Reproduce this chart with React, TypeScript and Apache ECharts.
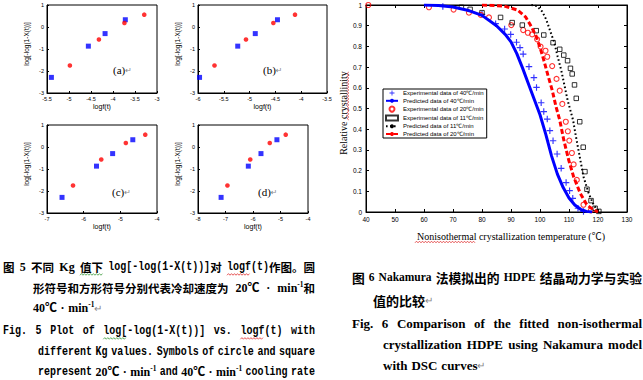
import React, { useEffect, useRef } from 'react';
import * as echarts from 'echarts';

const W = 643;
const H = 380;

// ---------------- Fig. 5 data (four panels) ----------------
const panelTags = ['(a)', '(b)', '(c)', '(d)'];
const panelXName = ['logf(t)', 'logf(t)', 'logf(t)', 'logf(t)'];
const panelXMin = [-5.5, -6, -7, -8];
const panelXMax = [-3, -3.5, -4, -4];
const panelXStep = [0.5, 0.5, 1, 1];
const fig5YName = 'log[-log(1-X(t))]';
const yBlue = [-2.29, -0.87, -0.3, 0.33];
const yRed = [-1.75, -0.57, 0.18, 0.56];
const xBlueA = [-5.4, -4.56, -4.18, -3.72];
const xRedA = [-4.98, -4.32, -3.74, -3.29];
const xBlueB = [-5.97, -5.23, -4.89, -4.46];
const xRedB = [-5.68, -5.07, -4.54, -4.12];
const xBlueC = [-6.59, -5.65, -5.21, -4.66];
const xRedC = [-6.29, -5.52, -4.85, -4.32];
const xBlueD = [-7.16, -6.17, -5.71, -5.13];
const xRedD = [-6.93, -6.1, -5.39, -4.81];
const panelBlueX = [xBlueA, xBlueB, xBlueC, xBlueD];
const panelRedX = [xRedA, xRedB, xRedC, xRedD];

// ---------------- Fig. 6 data ----------------
const fig6Names = [
  'Experimental data of 40\u2103/min',
  'Predicted data of 40\u2103/min',
  'Experimental data of 20\u2103/min',
  'Experimental data of 11\u2103/min',
  'Predicted data of 11\u2103/min',
  'Predicted data of 20\u2103/min',
];
const exp40 = [
  [66.5, 0.993], [80, 0.955], [84.7, 0.91], [87.8, 0.884], [89.9, 0.858], [91.9, 0.82],
  [93.1, 0.794], [94.2, 0.763], [96.2, 0.702], [97.9, 0.649], [98.8, 0.602], [100.4, 0.528],
  [101.3, 0.485], [102.5, 0.449], [103.4, 0.393], [104.5, 0.344], [105.9, 0.28], [107.3, 0.211],
  [109, 0.142], [110.2, 0.103], [111.3, 0.066], [113.1, 0.018], [115, 0.003],
];
const pred40 = [
  [60, 1], [65, 0.998], [70, 0.99], [75, 0.975], [80, 0.95], [85, 0.9], [88, 0.858], [90, 0.822],
  [92, 0.765], [94, 0.695], [96, 0.62], [98, 0.545], [100, 0.47], [102, 0.375], [104, 0.27],
  [106, 0.183], [108, 0.118], [110, 0.068], [112, 0.034], [114, 0.013], [116, 0.003], [118, 0],
];
const exp20 = [
  [40.8, 1], [61.7, 0.989], [70.2, 0.978], [75.5, 0.963], [79.6, 0.952], [82.4, 0.94], [90.1, 0.903],
  [94.2, 0.879], [95.8, 0.866], [97.3, 0.858], [99, 0.834], [100.2, 0.799], [101.9, 0.779],
  [102.5, 0.75], [104.2, 0.705], [105.7, 0.643], [106.8, 0.586], [107.7, 0.522], [108.9, 0.436],
  [109.6, 0.39], [110.1, 0.345], [111, 0.285], [111.6, 0.23], [112.7, 0.155], [115, 0.035], [117.5, 0.008],
];
const exp11 = [
  [72.9, 0.989], [75.9, 0.979], [80, 0.963], [86.4, 0.94], [90.4, 0.915], [93.9, 0.903], [98.7, 0.876],
  [101.3, 0.855], [104.5, 0.818], [106.8, 0.786], [108.2, 0.758], [109.5, 0.731], [110.5, 0.694],
  [111.1, 0.667], [111.9, 0.614], [112.5, 0.549], [113.7, 0.436], [114.9, 0.313], [115.5, 0.195],
  [116.2, 0.11], [117.6, 0.055], [119, 0.018], [120.3, 0.003],
];
const pred11 = [
  [97, 1], [99, 0.995], [100.8, 0.968], [102.2, 0.928], [103.6, 0.871], [105, 0.815], [106.1, 0.75],
  [107.3, 0.686], [108.4, 0.614], [109.5, 0.541], [110.3, 0.5], [111.4, 0.444], [112.4, 0.364],
  [113.7, 0.267], [115, 0.17], [116.8, 0.09], [118.5, 0.034], [120.2, 0],
];
const pred20 = [
  [80, 1], [87.6, 0.995], [92.2, 0.976], [95, 0.943], [96.7, 0.903], [98.5, 0.855], [99.9, 0.8],
  [101.3, 0.734], [102.7, 0.662], [104.2, 0.589], [105.5, 0.51], [106.8, 0.444], [108.2, 0.348],
  [109.9, 0.251], [111.6, 0.17], [113.9, 0.09], [116.2, 0.034], [118.5, 0.01], [120, 0],
];
const fig6XName = 'Nonisothermal crystallization temperature (\u2103)';
const fig6YName = 'Relative crystallinity';

// ---------------- layout (not data) ----------------
const panelGrids = [
  { left: 47, top: 5, width: 110, height: 88 },
  { left: 198, top: 5, width: 129, height: 88 },
  { left: 47, top: 125, width: 110, height: 88 },
  { left: 198, top: 125, width: 110, height: 88 },
];
const tagPos = [[113, 70], [263, 70], [112, 192], [258, 192]];
const bigGrid = { left: 366, top: 5, width: 261, height: 207 };

const BLUE = '#0000ff';
const RED = '#ff0000';

// ---------------- caption helpers ----------------
type Seg = { t: string; f: 'c' | 's' | 'm'; sup?: boolean; g?: boolean; sq?: string };
const FAM: Record<string, string> = {
  c: "'Noto Sans CJK SC'",
  s: "'Liberation Serif','Noto Sans CJK SC'",
  m: "'Liberation Mono','Noto Sans CJK SC'",
};
const SCALE: Record<string, number> = { c: 1, s: 1, m: 0.833 };
const c = (t: string, sq?: string): Seg => ({ t, f: 'c', sq });
const s = (t: string, sq?: string): Seg => ({ t, f: 's', sq });
const m = (t: string, sq?: string): Seg => ({ t, f: 'm', sq });
const sup = (t: string): Seg => ({ t, f: 's', sup: true });
const ret = (): Seg => ({ t: '\u21b5', f: 's', g: true });
const words = (str: string, mk: (t: string) => Seg) => str.split(' ').map((w) => [mk(w)]);

interface Line { words: Seg[][]; x0: number; x1?: number; y: number; size: number; csize: number }

const GREEN = '#3c9a3c';
const SQRED = '#e03030';

const captionLines: Line[] = [
  {
    words: [[c('图')], [s('5')], [c('不同')], [s('Kg')], [c('值下', GREEN)],
      [m('log[-log(1-X(t))]'), c('对')], [m('logf', SQRED), m('(t)'), c('作图。圆')]],
    x0: 3, x1: 315, y: 267, size: 12, csize: 11.5,
  },
  {
    words: [[c('形符号和方形符号分别代表冷却速度为')], [s('20\u2103')], [s('·')], [s('min'), sup('-1'), c('和')]],
    x0: 33, x1: 315, y: 288, size: 12, csize: 11.5,
  },
  { words: [[s('40\u2103')], [s('·')], [s('min'), sup('-1'), ret()]], x0: 33, y: 308, size: 12, csize: 11.5 },
  {
    words: [[m('Fig.')], [m('5')], [m('Plot')], [m('of')], [m('log[', GREEN), m('-log(1-X(t))]')],
      [m('vs.')], [m('logf', SQRED), m('(t)')], [m('with')]],
    x0: 3, x1: 315, y: 331, size: 12, csize: 11.5,
  },
  { words: words('different Kg values. Symbols of circle and square', (t) => m(t)), x0: 38, x1: 315, y: 352, size: 12, csize: 11.5 },
  {
    words: [[m('represent')], [s('20\u2103')], [s('·')], [s('min'), sup('-1')], [m('and')], [s('40\u2103')], [s('·')],
      [s('min'), sup('-1')], [m('cooling')], [m('rate')]],
    x0: 38, x1: 315, y: 372, size: 12, csize: 11.5,
  },
  {
    words: [[c('图')], [s('6')], [s('Nakamura')], [c('法模拟出的')], [s('HDPE')], [c('结晶动力学与实验')]],
    x0: 352, x1: 642, y: 277, size: 11.5, csize: 12.8,
  },
  { words: [[c('值的比较'), ret()]], x0: 373, y: 300, size: 13, csize: 13 },
  { words: words('Fig. 6 Comparison of the fitted non-isothermal', (t) => s(t)), x0: 352, x1: 642, y: 323, size: 13, csize: 13 },
  { words: words('crystallization HDPE using Nakamura model', (t) => s(t)), x0: 383, x1: 642, y: 344, size: 13, csize: 13 },
  { words: [[s('with')], [s('DSC')], [s('curves'), ret()]], x0: 383, y: 365, size: 13, csize: 13 },
];

function squiggle(x0: number, x1: number, y: number, color: string, vertical = false) {
  const pts: number[][] = [];
  let k = 0;
  for (let p = x0; p <= x1; p += 1.5, k++) {
    const off = k % 2 ? -0.8 : 0.8;
    pts.push(vertical ? [y + off, p] : [p, y + off]);
  }
  return { type: 'polyline', silent: true, shape: { points: pts }, style: { stroke: color, fill: 'none', lineWidth: 0.8 } };
}

function captionElements(lines: Line[]) {
  const ctx = document.createElement('canvas').getContext('2d') as CanvasRenderingContext2D;
  const els: any[] = [];
  for (const ln of lines) {
    const segSize = (sg: Seg) => (sg.sup ? ln.size * 0.62 : sg.g ? ln.size * 0.8 : sg.f === 'c' ? ln.csize : ln.size);
    const weight = (sg: Seg) => (sg.g ? 'normal' : 'bold');
    const segW = (sg: Seg) => {
      ctx.font = `${weight(sg)} ${segSize(sg)}px ${FAM[sg.f]}`;
      return ctx.measureText(sg.t).width * SCALE[sg.f];
    };
    const widths = ln.words.map((w) => w.reduce((a, sg) => a + segW(sg), 0));
    const total = widths.reduce((a, b) => a + b, 0);
    const n = ln.words.length;
    let gap = ln.x1 != null && n > 1 ? (ln.x1 - ln.x0 - total) / (n - 1) : ln.size * 0.3;
    if (gap < 2) gap = 2;
    let x = ln.x0;
    ln.words.forEach((w, i) => {
      let sx = x;
      for (const sg of w) {
        const sw = segW(sg);
        els.push({
          type: 'text',
          x: sx,
          y: sg.sup ? ln.y - ln.size * 0.33 : ln.y,
          scaleX: SCALE[sg.f],
          silent: true,
          style: {
            text: sg.t,
            fontSize: segSize(sg),
            fontFamily: FAM[sg.f],
            fontWeight: weight(sg),
            fill: sg.g ? '#888' : '#000',
            align: 'left',
            verticalAlign: 'middle',
          },
        });
        if (sg.sq) els.push(squiggle(sx, sx + sw, ln.y + ln.size * 0.62, sg.sq));
        sx += sw;
      }
      x += widths[i] + gap;
    });
  }
  return els;
}

function buildOption() {
  const grid: any[] = [];
  const xAxis: any[] = [];
  const yAxis: any[] = [];
  const series: any[] = [];

  panelGrids.forEach((g, i) => {
    grid.push({ ...g, show: true, borderColor: '#000', borderWidth: 1, backgroundColor: 'transparent' });
    xAxis.push({
      gridIndex: i, type: 'value', min: panelXMin[i], max: panelXMax[i], interval: panelXStep[i],
      axisLine: { onZero: false, lineStyle: { color: '#000', width: 1 } },
      axisTick: { inside: true, length: 2, lineStyle: { color: '#000' } },
      axisLabel: { fontSize: 5.5, color: '#000', margin: 3, fontFamily: 'Liberation Sans' },
      splitLine: { show: false },
      name: panelXName[i], nameLocation: 'middle', nameGap: 10,
      nameTextStyle: { fontSize: 7, color: '#000', fontFamily: 'Liberation Sans' },
    });
    yAxis.push({
      gridIndex: i, type: 'value', min: -3, max: 1, interval: 1,
      axisLine: { onZero: false, lineStyle: { color: '#000', width: 1 } },
      axisTick: { inside: true, length: 2, lineStyle: { color: '#000' } },
      axisLabel: { fontSize: 5.5, color: '#000', margin: 3, fontFamily: 'Liberation Sans' },
      splitLine: { show: false },
      name: fig5YName, nameLocation: 'middle', nameGap: 17, nameRotate: 90,
      nameTextStyle: { fontSize: 6.5, color: '#000', fontFamily: 'Liberation Sans', padding: [0, 0, 0, 10] },
    });
    series.push({
      type: 'scatter', xAxisIndex: i, yAxisIndex: i, symbol: 'rect', symbolSize: 5,
      itemStyle: { color: BLUE }, data: panelBlueX[i].map((x, k) => [x, yBlue[k]]),
    });
    series.push({
      type: 'scatter', xAxisIndex: i, yAxisIndex: i, symbol: 'circle', symbolSize: 4.6,
      itemStyle: { color: RED }, data: panelRedX[i].map((x, k) => [x, yRed[k]]),
    });
  });

  // big chart
  const bi = 4;
  grid.push({ ...bigGrid, show: true, borderColor: '#000', borderWidth: 1, backgroundColor: 'transparent' });
  const tick = { inside: true, length: 3, lineStyle: { color: '#000' } };
  xAxis.push({
    gridIndex: bi, type: 'value', min: 40, max: 130, interval: 10,
    axisLine: { onZero: false, lineStyle: { color: '#000' } }, axisTick: tick,
    axisLabel: { fontSize: 6.5, color: '#000', margin: 4, fontFamily: 'Liberation Sans' },
    splitLine: { show: false },
  });
  xAxis.push({
    gridIndex: bi, type: 'value', min: 40, max: 130, interval: 10, position: 'top',
    axisLine: { onZero: false, lineStyle: { color: '#000' } }, axisTick: tick,
    axisLabel: { show: false }, splitLine: { show: false },
  });
  yAxis.push({
    gridIndex: bi, type: 'value', min: 0, max: 1, interval: 0.1,
    axisLine: { onZero: false, lineStyle: { color: '#000' } }, axisTick: tick,
    axisLabel: { fontSize: 6.5, color: '#000', margin: 4, fontFamily: 'Liberation Sans' },
    splitLine: { show: false },
  });
  yAxis.push({
    gridIndex: bi, type: 'value', min: 0, max: 1, interval: 0.1, position: 'right',
    axisLine: { onZero: false, lineStyle: { color: '#000' } }, axisTick: tick,
    axisLabel: { show: false }, splitLine: { show: false },
  });
  const X = 4, Y = 4;
  series.push({
    name: fig6Names[0], type: 'scatter', xAxisIndex: X, yAxisIndex: Y,
    symbol: 'path://M3.3,0H4.7V3.3H8V4.7H4.7V8H3.3V4.7H0V3.3H3.3Z', symbolSize: 6.5,
    itemStyle: { color: BLUE }, data: exp40, z: 3,
  });
  series.push({
    name: fig6Names[1], type: 'line', xAxisIndex: X, yAxisIndex: Y, symbol: 'none', showSymbol: false,
    lineStyle: { color: BLUE, width: 3 }, itemStyle: { color: BLUE }, data: pred40, z: 4,
  });
  series.push({
    name: fig6Names[2], type: 'scatter', xAxisIndex: X, yAxisIndex: Y, symbol: 'circle', symbolSize: 5,
    itemStyle: { color: 'rgba(0,0,0,0)', borderColor: RED, borderWidth: 1.1 }, data: exp20, z: 3,
  });
  series.push({
    name: fig6Names[3], type: 'scatter', xAxisIndex: X, yAxisIndex: Y, symbol: 'rect', symbolSize: 4.5,
    itemStyle: { color: 'rgba(0,0,0,0)', borderColor: '#000', borderWidth: 1 }, data: exp11, z: 3,
  });
  series.push({
    name: fig6Names[4], type: 'line', xAxisIndex: X, yAxisIndex: Y, symbol: 'none', showSymbol: false,
    lineStyle: { color: '#000', width: 2, type: [1.6, 2.4] }, itemStyle: { color: '#000' }, data: pred11, z: 4,
  });
  series.push({
    name: fig6Names[5], type: 'line', xAxisIndex: X, yAxisIndex: Y, symbol: 'none', showSymbol: false,
    lineStyle: { color: RED, width: 3, type: [5, 2.5] }, itemStyle: { color: RED }, data: pred20, z: 5,
  });

  const graphic: any[] = [];
  panelTags.forEach((t, i) => {
    graphic.push({
      type: 'text', x: tagPos[i][0], y: tagPos[i][1], silent: true,
      style: {
        text: `{a|${t}}{r|\u21b5}`, align: 'left', verticalAlign: 'middle',
        rich: {
          a: { fontSize: 11, fontFamily: 'Liberation Serif', fill: '#000' },
          r: { fontSize: 8, fontFamily: 'DejaVu Sans', fill: '#888' },
        },
      },
    });
  });
  graphic.push({
    type: 'text', x: 511, y: 236, silent: true,
    style: { text: fig6XName, fontSize: 10, fontFamily: "'Liberation Serif','Noto Sans CJK SC'", fill: '#000', align: 'center', verticalAlign: 'middle' },
  });
  graphic.push(squiggle(415, 476, 242, SQRED));
  graphic.push({
    type: 'text', x: 343, y: 113, rotation: Math.PI / 2, silent: true,
    style: { text: fig6YName, fontSize: 10, fontFamily: 'Liberation Serif', fill: '#000', align: 'center', verticalAlign: 'middle' },
  });
  graphic.push(squiggle(72, 120, 348, SQRED, true));
  graphic.push(...captionElements(captionLines));

  return {
    animation: false,
    backgroundColor: '#fff',
    grid, xAxis, yAxis, series, graphic,
    legend: {
      data: fig6Names,
      orient: 'vertical',
      left: 383, top: 89,
      itemWidth: 12, itemHeight: 5, itemGap: 1.8,
      padding: [1, 3, 1, 2],
      borderColor: '#000', borderWidth: 1, backgroundColor: '#fff',
      textStyle: { fontSize: 6, lineHeight: 6, color: '#000', fontFamily: 'Liberation Sans' },
      selectedMode: false,
    },
  };
}

export default function App() {
  const ref = useRef<HTMLDivElement>(null);
  useEffect(() => {
    if (!ref.current) return;
    const chart = echarts.init(ref.current, null, { renderer: 'svg' });
    chart.setOption(buildOption() as any);
    return () => chart.dispose();
  }, []);
  return <div ref={ref} style={{ position: 'fixed', left: 0, top: 0, width: W, height: H, background: '#fff' }} />;
}
